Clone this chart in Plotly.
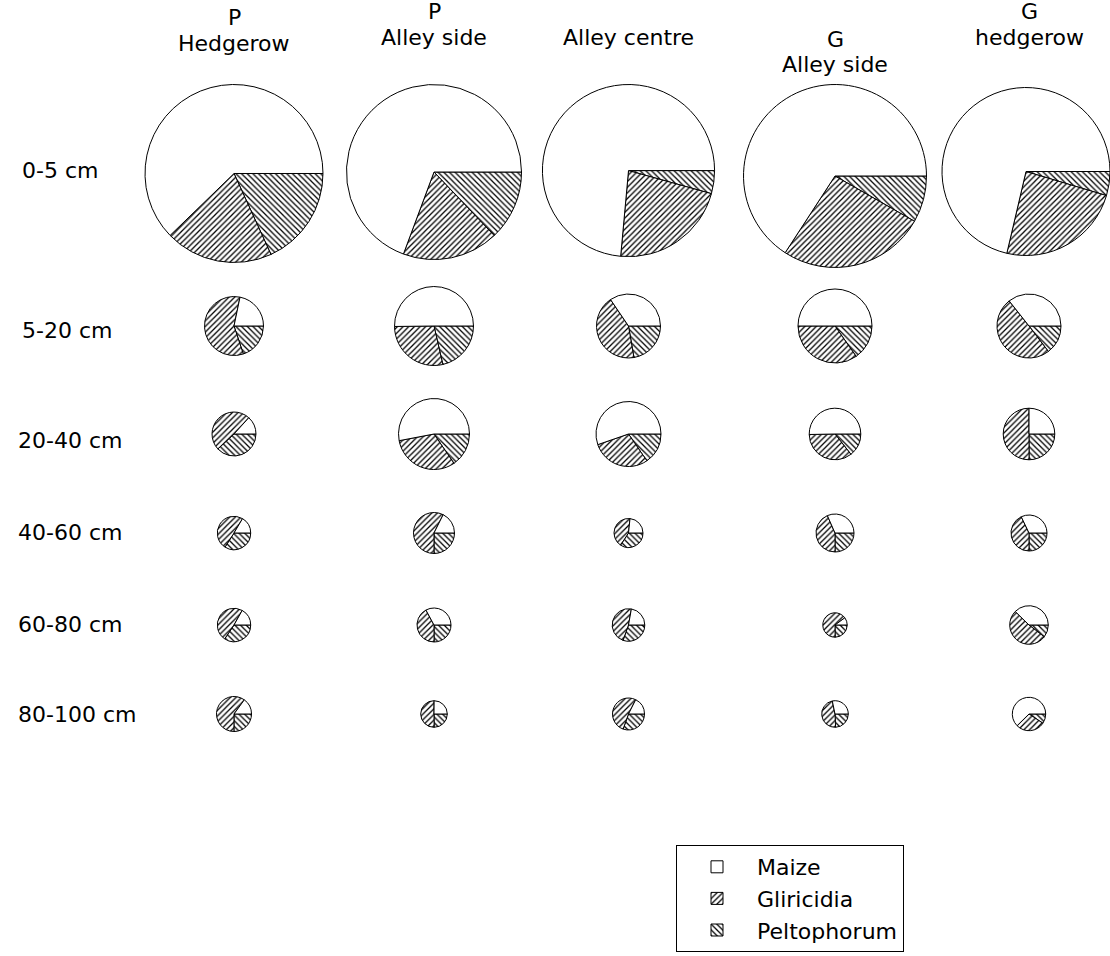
import math
import plotly.graph_objects as go

# Figure size in px
W, H = 1110, 956

depths = ["0-5 cm", "5-20 cm", "20-40 cm", "40-60 cm", "60-80 cm", "80-100 cm"]
positions = [["P", "Hedgerow"], ["P", "Alley side"], ["Alley centre"],
             ["G", "Alley side"], ["G", "hedgerow"]]
species = ["Maize", "Gliricidia", "Peltophorum"]

# Root amounts per depth (rows) and sampling position (columns)
maize = [
    [49.3, 53.1, 54.5, 55.1, 54.0],
    [1.89, 7.83, 3.53, 6.85, 3.65],
    [0.64, 6.68, 5.84, 3.35, 1.66],
    [0.46, 0.74, 0.49, 1.14, 1.04],
    [0.47, 0.95, 0.59, 0.15, 1.40],
    [0.46, 0.44, 0.45, 0.50, 1.74],
]
gliricidia = [
    [15.5, 13.6, 16.4, 21.7, 18.2],
    [5.08, 4.43, 4.42, 4.75, 5.09],
    [2.35, 3.97, 3.09, 2.35, 3.33],
    [1.38, 2.41, 0.89, 1.57, 1.39],
    [1.36, 1.22, 1.26, 0.97, 1.93],
    [1.84, 0.89, 1.33, 0.84, 0.79],
]
peltophorum = [
    [14.4, 9.9, 3.2, 6.9, 3.5],
    [1.73, 3.34, 2.28, 2.10, 1.50],
    [1.84, 1.95, 1.63, 0.96, 1.66],
    [0.95, 1.05, 0.72, 0.90, 0.81],
    [0.96, 0.72, 0.81, 0.37, 0.39],
    [0.77, 0.44, 0.78, 0.43, 0.26],
]

# ---- layout of the pie grid (pixels) ----
col_x = [234, 434, 628.5, 835, 1029]
row_y = [None, 326, 434, 533, 625, 714]   # first row hangs from TOP_ROW_TOP
TOP_ROW_TOP = 84.5
PX_PER_SQRT_UNIT = 10.0                   # pie area proportional to total

FONT = "DejaVu Sans, Verdana, sans-serif"
TXT = 22
hatch = {"Maize": "", "Gliricidia": "/", "Peltophorum": "\\"}

# slices are laid clockwise from 3 o'clock in reverse species order, so that
# counter-clockwise from 3 o'clock they read Maize, Gliricidia, Peltophorum
draw_order = species[::-1]

fig = go.Figure()

first = True
for i, depth in enumerate(depths):
    for j, pos in enumerate(positions):
        by_species = {"Maize": maize[i][j], "Gliricidia": gliricidia[i][j],
                      "Peltophorum": peltophorum[i][j]}
        vals = [by_species[s] for s in draw_order]
        total = sum(vals)
        r = PX_PER_SQRT_UNIT * math.sqrt(total)
        cx = col_x[j]
        cy = TOP_ROW_TOP + r if row_y[i] is None else row_y[i]
        x0, x1 = max(cx - r, 0), min(cx + r, W)
        y0, y1 = cy - r, cy + r
        fig.add_trace(go.Pie(
            labels=draw_order,
            values=vals,
            sort=False,
            direction="clockwise",
            rotation=90,
            textinfo="none",
            name=f"{' '.join(pos)}, {depth}",
            hovertemplate="%{label}: %{value} (%{percent})<extra>%{fullData.name}</extra>",
            showlegend=first,
            marker=dict(
                colors=["white"] * 3,
                line=dict(color="black", width=1),
                pattern=dict(shape=[hatch[s] for s in draw_order], fgcolor="black",
                             bgcolor="white", size=4, solidity=0.32),
            ),
            domain=dict(x=[x0 / W, x1 / W], y=[1 - y1 / H, 1 - y0 / H]),
        ))
        first = False

annotations = []
# column headers
header_rows = [[17, 44], [12, 37], [37], [39, 65], [12, 37]]
for j, lines in enumerate(positions):
    for line, yy in zip(lines, header_rows[j]):
        annotations.append(dict(
            text=line, x=col_x[j] / W, y=1 - yy / H, xref="paper", yref="paper",
            xanchor="center", yanchor="middle", showarrow=False,
            font=dict(family=FONT, size=TXT, color="black")))

# depth labels
label_x = [20, 20, 16, 16, 16, 16]
label_y = [170, 330, 440, 532, 624, 714]
for i, depth in enumerate(depths):
    annotations.append(dict(
        text=depth, x=label_x[i] / W, y=1 - label_y[i] / H, xref="paper", yref="paper",
        xanchor="left", yanchor="middle", showarrow=False,
        font=dict(family=FONT, size=TXT, color="black")))

fig.update_layout(
    width=W, height=H,
    margin=dict(l=0, r=0, t=0, b=0),
    paper_bgcolor="white", plot_bgcolor="white",
    annotations=annotations,
    font=dict(family=FONT, color="black"),
    legend=dict(
        x=676 / W, y=1 - 845 / H, xanchor="left", yanchor="top",
        bordercolor="black", borderwidth=1, bgcolor="white",
        font=dict(family=FONT, size=TXT, color="black"),
        itemwidth=70, traceorder="reversed",
    ),
)

fig.write_html("out.html")
